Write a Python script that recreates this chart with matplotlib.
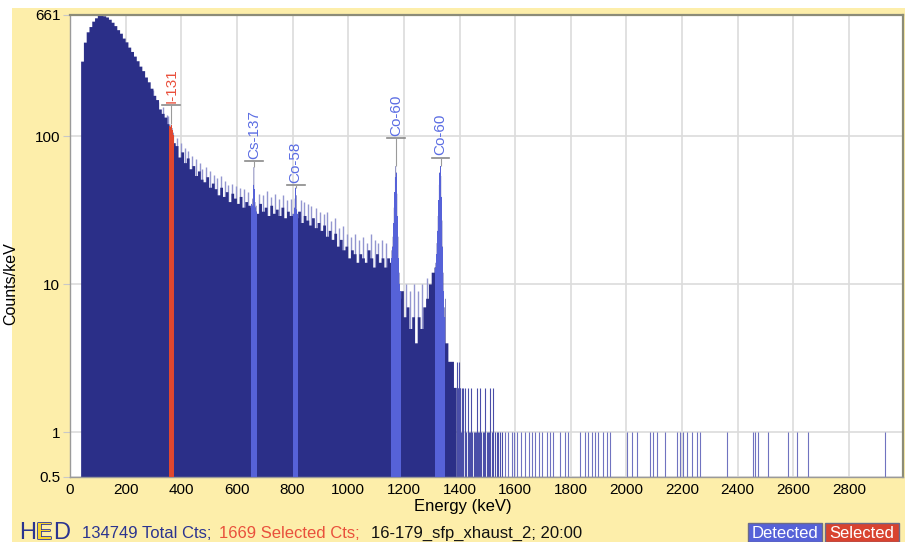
import numpy as np
import matplotlib.pyplot as plt
import matplotlib.patheffects as pe
from matplotlib.patches import Rectangle
from matplotlib.ticker import FixedLocator, NullLocator

plt.rcParams['font.family'] = ['Liberation Sans', 'DejaVu Sans']

# continuum, 10 keV bins from 40 keV (counts/keV)
cont_start = 40
cont_step = 10
cont_counts = [
    320, 430, 505, 548, 596, 628, 652, 661, 648, 636,
    614, 586, 556, 522, 494, 458, 432, 398, 372, 346,
    322, 296, 276, 250, 232, 210, 188, 176, 152, 142,
    134, 121, 112, 90, 86, 72, 78, 66, 71, 60,
    63, 54, 58, 51, 49, 53, 45, 48, 44, 40,
    45, 39, 42, 36, 41, 38, 35, 39, 33, 36,
    34, 32, 34, 30, 35, 31, 33, 29, 34, 30,
    32, 29, 33, 28, 31, 29, 30, 28, 31, 26,
    29, 27, 25, 28, 24, 26, 23, 25, 21, 23,
    20, 22, 18, 20, 17, 18, 15, 17, 16, 14,
    16, 15, 14, 17, 15, 13, 16, 14, 15, 13,
    15, 14, 15, 15, 12, 9, 6, 7, 5, 6,
    4, 6, 5, 7, 8, 10, 12, 13, 13, 13,
    8, 4, 3, 3, 2,
]

# single-channel spikes standing above the continuum
spike_energy = [300, 318, 333, 347, 352, 385, 398, 412, 425, 437, 452, 466,
                474, 488, 503, 517, 528, 541, 556, 567, 583, 596, 612, 627,
                641, 681, 694, 708, 722, 737, 751, 766, 779, 793, 829, 842,
                856, 868, 883, 897, 912, 925, 939, 953, 966, 981, 996, 1010,
                1024, 1039, 1053, 1068, 1081, 1095, 1108, 1122, 1137, 1206,
                1222, 1236, 1251, 1265, 1283]
spike_counts = [205, 170, 158, 140, 138, 98, 90, 84, 80, 74, 70, 66,
                60, 62, 58, 55, 52, 54, 50, 47, 48, 46, 45, 44,
                42, 41, 40, 43, 39, 41, 38, 40, 37, 38, 37, 36,
                35, 34, 33, 31, 30, 31, 27, 28, 24, 25, 22, 21,
                22, 20, 21, 19, 22, 20, 19, 20, 19, 10,
                9, 10, 9, 10, 11]

# regions of interest, 2 keV bins
roi_step = 2
roi_names = ['I-131', 'Cs-137', 'Co-58', 'Co-60', 'Co-60']
roi_start = [356, 650, 802, 1154, 1312]
roi_counts = [
    [118, 121, 115, 118, 119, 114, 110, 106, 102],
    [33, 35, 34, 38, 47, 62, 44, 36, 33, 34, 31],
    [30, 29, 33, 38, 45, 40, 32, 30, 28],
    [15, 17, 18, 21, 26, 33, 42, 53, 63, 57, 41, 29, 21, 15, 12, 10, 9, 8],
    [13, 14, 16, 19, 23, 29, 37, 47, 57, 63, 54, 39, 27, 18, 12, 9, 7, 6],
]
roi_selected = [True, False, False, False, False]
line_energy = [364, 662, 811, 1173, 1332]
marker_counts = [162, 68, 47, 98, 72]

# sparse high-energy tail
tail_energy = [1391, 1393, 1396, 1398, 1401, 1403, 1406, 1408, 1411, 1414,
               1418, 1421, 1425, 1430, 1433, 1437, 1442, 1446, 1451, 1456,
               1460, 1463, 1467, 1471, 1474, 1479, 1484, 1488, 1492, 1497,
               1502, 1507, 1510, 1516, 1521, 1526, 1533, 1539, 1546, 1552]
tail_counts = [3, 2, 2, 3, 2, 2, 1, 2, 2, 1,
               2, 1, 1, 2, 1, 1, 2, 1, 1, 1,
               1, 2, 1, 1, 2, 1, 1, 1, 2, 1,
               1, 1, 2, 1, 2, 1, 1, 1, 1, 1]
single_energy = [1564, 1576, 1588, 1597, 1606, 1622, 1636, 1648, 1660, 1672,
                 1684, 1696, 1714, 1725, 1737, 1761, 1779, 1791, 1833, 1851,
                 1863, 1875, 1887, 1899, 1917, 1929, 1941, 2001, 2019, 2037,
                 2085, 2097, 2109, 2139, 2181, 2193, 2205, 2217, 2235, 2253,
                 2265, 2360, 2456, 2462, 2474, 2510, 2582, 2612, 2654, 2930]

y_ticks = [0.5, 1, 10, 100, 661]
y_tick_labels = ['0.5', '1', '10', '100', '661']
x_ticks = list(range(0, 3000, 200))

navy = '#2b2f88'
roi_blue = '#5662d8'
roi_red = '#e0472f'
label_blue = '#5b6de3'
label_red = '#e9503c'
panel = '#fdeeaa'

fig = plt.figure(figsize=(9.05, 5.42), dpi=100)
fig.patch.set_facecolor('white')
fig.patches.append(Rectangle((12 / 905, 0), 1, 534 / 542, transform=fig.transFigure,
                             facecolor=panel, edgecolor='none', zorder=-10))

ax = fig.add_axes([70 / 905, 65 / 542, 833 / 905, 462 / 542])
ax.set_facecolor('white')
ax.set_yscale('log')
ax.set_xlim(0, 2994)
ax.set_ylim(0.5, 661)

# spread the 10 keV continuum onto the 2 keV grid and drop in the ROI bins
per = cont_step // roi_step
fine = np.repeat(np.array(cont_counts, dtype=float), per)
fine_edges = cont_start + roi_step * np.arange(len(fine) + 1)
for start, counts in zip(roi_start, roi_counts):
    i0 = (start - cont_start) // roi_step
    fine[i0:i0 + len(counts)] = counts

ax.vlines(spike_energy, 0.5, spike_counts, color='#9396d0', lw=1.0, zorder=1.5)
ax.stairs(fine, fine_edges, baseline=0.5, fill=True, color=navy, lw=0, zorder=2)

for start, counts, sel in zip(roi_start, roi_counts, roi_selected):
    edges = start + roi_step * np.arange(len(counts) + 1)
    ax.stairs(counts, edges, baseline=0.5, fill=True,
              color=roi_red if sel else roi_blue, lw=0, zorder=3)

ax.vlines(tail_energy, 0.5, tail_counts, color='#4a4ea8', lw=0.8, zorder=2)
ax.vlines(single_energy, 0.5, 1, color='#7073c0', lw=0.8, zorder=2)

# peak labels with marker bar and leader
for name, e, m, counts, sel in zip(roi_names, line_energy, marker_counts,
                                   roi_counts, roi_selected):
    ax.plot([e - 32, e + 32], [m, m], color='#8a8a8a', lw=1.2, zorder=4)
    ax.vlines(e, max(counts), m, color='#9a9a9a', lw=0.8, zorder=4)
    ax.annotate(name, (e, m), xytext=(0, 1.5), textcoords='offset points',
                rotation=90, ha='center', va='bottom', fontsize=11,
                color=label_red if sel else label_blue, zorder=5)

ax.xaxis.set_major_locator(FixedLocator(x_ticks))
ax.yaxis.set_major_locator(FixedLocator(y_ticks))
ax.yaxis.set_minor_locator(NullLocator())
ax.set_yticklabels(y_tick_labels)
ax.grid(True, color='#dcdcdc', lw=1.2, zorder=0)
ax.set_axisbelow(True)
ax.tick_params(axis='x', length=0, pad=4, labelsize=11)
ax.tick_params(axis='y', length=5, color='#c8c8c8', pad=2, labelsize=11)

for side in ['left', 'bottom']:
    ax.spines[side].set_color('#9a9a9a')
    ax.spines[side].set_linewidth(1.0)
for side in ['top', 'right']:
    ax.spines[side].set_color('#8c8c78')
    ax.spines[side].set_linewidth(1.6)

ax.set_xlabel('Energy (keV)', fontsize=12)
ax.xaxis.set_label_coords(0.472, -0.047)
ax.set_ylabel('Counts/keV', fontsize=11.5)
ax.yaxis.set_label_coords(-0.062, 0.418)

# status line: logo, counts, file name, legend boxes
logo_y = 0.006
fig.text(19 / 905, logo_y, 'H', fontsize=17, color='#2b3490', va='baseline')
fig.text(36.5 / 905, logo_y, 'E', fontsize=17, color='#f5d22a', va='baseline',
         path_effects=[pe.withStroke(linewidth=1.2, foreground='#2b3490')])
fig.text(53 / 905, logo_y, 'D', fontsize=17, color='#2b3490', va='baseline')

status_y = 0.0075
fig.text(82 / 905, status_y, '134749 Total Cts;', fontsize=12, color='#2b3490', va='baseline')
fig.text(219 / 905, status_y, '1669 Selected Cts;', fontsize=12, color=label_red, va='baseline')
fig.text(371 / 905, status_y, '16-179_sfp_xhaust_2; 20:00', fontsize=12, color='#111111', va='baseline')

for x0, x1, txt, col in [(748, 822, 'Detected', roi_blue), (825, 899, 'Selected', '#d8432f')]:
    fig.patches.append(Rectangle((x0 / 905, 0), (x1 - x0) / 905, 19 / 542,
                                 transform=fig.transFigure, facecolor=col,
                                 edgecolor='#6b6b8a', lw=1))
    fig.text((x0 + x1) / 2 / 905, status_y, txt, fontsize=12, color='white',
             ha='center', va='baseline')

fig.savefig('out.png', dpi=100)
